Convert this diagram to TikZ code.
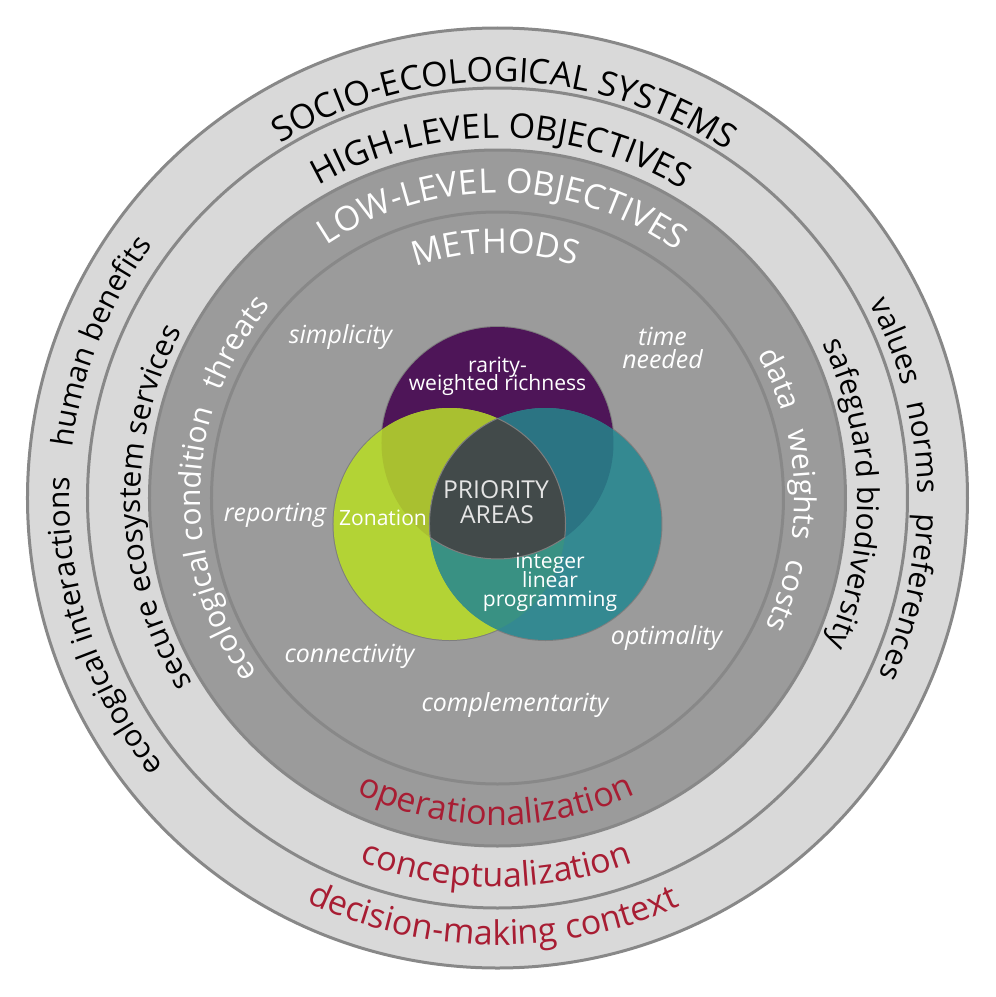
\documentclass[tikz,border=0pt]{standalone}
\usepackage{fontspec}
\setmainfont{Open Sans}
\usetikzlibrary{decorations.text}

\definecolor{ringlight}{HTML}{D9D9D9}
\definecolor{ringdark}{HTML}{9B9B9B}
\definecolor{ringedge}{HTML}{888888}
\definecolor{contextred}{HTML}{A81D33}
\definecolor{vpurple}{HTML}{4E1558}
\definecolor{vgreen}{HTML}{B3D335}
\definecolor{vteal}{HTML}{348991}
\definecolor{volive}{HTML}{A9C030}
\definecolor{vdeepteal}{HTML}{2B7483}
\definecolor{vseagreen}{HTML}{399183}
\definecolor{vcore}{HTML}{424A4A}
\definecolor{vedge}{HTML}{7E7E7E}
\definecolor{coretext}{HTML}{E4E4E4}

\newcommand\ringfont{\fontsize{25.5}{30}\selectfont}
\newcommand\sidefont{\fontsize{22.5}{27}\selectfont}
% curved label read clockwise (letter tops point outward):
% font, colour, baseline radius, centre angle, text
\newcommand\cwlabel[5]{%
  \path[decorate, decoration={text along path, text align=center, text color=#2,
      text={|#1|#5}}]
    ({#4+60}:#3) arc[start angle={#4+60}, end angle={#4-60}, radius=#3];}
% curved label read counter-clockwise (letter tops point inward)
\newcommand\ccwlabel[5]{%
  \path[decorate, decoration={text along path, text align=center, text color=#2,
      text={|#1|#5}}]
    ({#4-60}:#3) arc[start angle={#4-60}, end angle={#4+60}, radius=#3];}

\tikzset{
  ringline/.style={draw=ringedge, line width=2.25pt},
  venntext/.style={text=white, font=\fontsize{15.8}{18}\selectfont, anchor=base, inner sep=0pt},
  corelabel/.style={text=coretext, font=\fontsize{18.5}{22}\selectfont, anchor=base, inner sep=0pt},
  criterion/.style={text=white, font=\itshape\fontsize{18.7}{21}\selectfont, anchor=base, inner sep=0pt},
}

\begin{document}
\begin{tikzpicture}[x=0.75pt, y=0.75pt]
  \fill[white] (-497.5,-499) rectangle (498.5,498);
  \useasboundingbox (-497.5,-499) rectangle (498.5,498);

  \coordinate (o) at (0,0);

  % concentric rings
  \draw[ringline, fill=ringlight] (o) circle[radius=470];
  \draw[ringline] (o) circle[radius=410];
  \draw[ringline, fill=ringdark] (o) circle[radius=348];
  \draw[ringline] (o) circle[radius=286];

  % outer ring: socio-ecological systems / decision-making context
  \cwlabel{\ringfont}{black}{416}{89}{SOCIO-ECOLOGICAL SYSTEMS}
  \cwlabel{\sidefont}{black}{428}{198}{ecological interactions}
  \cwlabel{\sidefont}{black}{428}{158.5}{human benefits}
  \cwlabel{\sidefont}{black}{420}{21.5}{values}
  \cwlabel{\sidefont}{black}{420}{6.8}{norms}
  \cwlabel{\sidefont}{black}{420}{-13.5}{preferences}
  \ccwlabel{\ringfont}{contextred}{447}{269.4}{decision-making context}

  % second ring: high-level objectives / conceptualization
  \cwlabel{\ringfont}{black}{360}{89.4}{HIGH-LEVEL OBJECTIVES}
  \cwlabel{\sidefont}{black}{357}{181.7}{secure ecosystem services}
  \cwlabel{\sidefont}{black}{360}{0.75}{safeguard biodiversity}
  \ccwlabel{\ringfont}{contextred}{389}{269.85}{conceptualization}

  % third ring: low-level objectives / operationalization
  \cwlabel{\ringfont}{white}{305}{89}{LOW-LEVEL OBJECTIVES}
  \cwlabel{\sidefont}{white}{297}{189.5}{ecological condition}
  \cwlabel{\sidefont}{white}{297}{149.3}{threats}
  \cwlabel{\sidefont}{white}{297}{22.9}{data}
  \cwlabel{\sidefont}{white}{297}{2.5}{weights}
  \cwlabel{\sidefont}{white}{297}{-18.7}{costs}
  \ccwlabel{\ringfont}{contextred}{327}{269.7}{operationalization}

  % methods disc
  \cwlabel{\ringfont}{white}{245}{90.5}{METHODS}

  % Venn diagram of methods
  \coordinate (pc) at (0,55);
  \coordinate (gc) at (-48,-26);
  \coordinate (tc) at (48,-26);
  \coordinate (vtop) at (0,79.6);

  \draw[vedge, line width=1.5pt] (pc) circle[radius=116];
  \draw[vedge, line width=1.5pt] (gc) circle[radius=116];
  \draw[vedge, line width=1.5pt] (tc) circle[radius=116];

  \fill[vpurple] (pc) circle[radius=116];
  \fill[vgreen] (gc) circle[radius=116];
  \fill[vteal] (tc) circle[radius=116];
  \begin{scope}
    \clip (pc) circle[radius=116];
    \fill[volive] (gc) circle[radius=116];
    \fill[vdeepteal] (tc) circle[radius=116];
  \end{scope}
  \begin{scope}
    \clip (gc) circle[radius=116];
    \fill[vseagreen] (tc) circle[radius=116];
  \end{scope}
  \filldraw[fill=vcore, draw=vedge, line width=0.75pt]
    (vtop) arc[start angle=65.56, end angle=-6.68, radius=116]
           arc[start angle=-54.58, end angle=-125.42, radius=116]
           arc[start angle=186.68, end angle=114.44, radius=116] -- cycle;

  \node[venntext] (rar1) at (0,126) {rarity-};
  \node[venntext] (rar2) at (0,108) {weighted richness};
  \node[venntext] (zon) at (-114.5,-27) {Zonation};
  \node[venntext] (ilp1) at (52.5,-70.3) {integer};
  \node[venntext] (ilp2) at (52.5,-89.3) {linear};
  \node[venntext] (ilp3) at (52.5,-108.7) {programming};
  \node[corelabel] (prio1) at (-1.5,0) {PRIORITY};
  \node[corelabel] (prio2) at (-0.5,-25.3) {AREAS};

  % criteria for choosing a method
  \node[criterion] (simp) at (-157,155) {simplicity};
  \node[criterion] (time1) at (165,153) {time};
  \node[criterion] (time2) at (165,130) {needed};
  \node[criterion] (rep) at (-222.5,-23) {reporting};
  \node[criterion] (conn) at (-148,-164) {connectivity};
  \node[criterion] (compl) at (17.5,-213) {complementarity};
  \node[criterion] (opt) at (169,-146) {optimality};
\end{tikzpicture}
\end{document}
